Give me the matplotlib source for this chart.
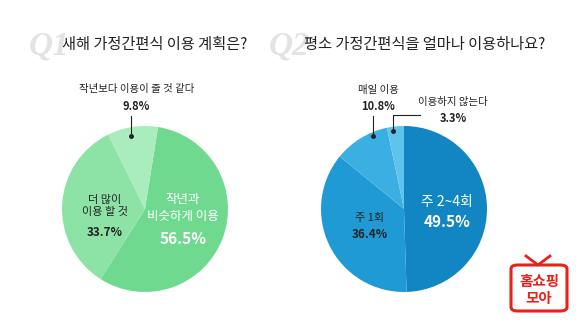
import matplotlib.pyplot as plt
from matplotlib.patches import FancyBboxPatch
from matplotlib.lines import Line2D

plt.rcParams['font.family'] = ['Noto Sans CJK KR', 'DejaVu Sans']

W, H = 580, 322

# Q1: 새해 가정간편식 이용 계획
q1_labels = ['작년과\n비슷하게 이용', '더 많이\n이용 할 것', '작년보다 이용이 줄 것 같다']
q1_values = [56.5, 33.7, 9.8]
q1_colors = ['#6fda8f', '#8de3a6', '#a9ecbd']

# Q2: 평소 가정간편식 이용 빈도
q2_labels = ['주 2~4회', '주 1회', '매일 이용', '이용하지 않는다']
q2_values = [49.5, 36.4, 10.8, 3.3]
q2_colors = ['#1286c2', '#1f9ad5', '#3cafe2', '#5ec4ec']


def fx(x):
    return x / W


def fy(y):
    return 1 - y / H


def pie_axes(cx, cy, r):
    ax = fig.add_axes([fx(cx - r), fy(cy + r), 2 * r / W, 2 * r / H])
    ax.axis('off')
    return ax


def label(x, y, s, size=8, color='#222222', weight='normal'):
    fig.text(fx(x), fy(y), s, fontsize=size, color=color, weight=weight,
             ha='center', va='center', linespacing=1.35)


def leader(points):
    xs = [fx(p[0]) for p in points]
    ys = [fy(p[1]) for p in points]
    fig.add_artist(Line2D(xs, ys, color='#222222', lw=0.8))
    fig.add_artist(Line2D([xs[-1]], [ys[-1]], marker='o', ms=2.5,
                          color='#222222'))


fig = plt.figure(figsize=(5.8, 3.22), dpi=100)
fig.patch.set_facecolor('white')

# titles with faded Q numbers behind them
fig.text(fx(29), fy(46), 'Q1', fontsize=24, family='Liberation Serif',
         style='italic', weight='bold', color='#e3e3e3', va='center')
fig.text(fx(62), fy(45), '새해 가정간편식 이용 계획은?', fontsize=11,
         color='#222222', va='center')
fig.text(fx(269), fy(46), 'Q2', fontsize=24, family='Liberation Serif',
         style='italic', weight='bold', color='#e3e3e3', va='center')
fig.text(fx(304), fy(45), '평소 가정간편식을 얼마나 이용하나요?', fontsize=11,
         color='#222222', va='center')

# left pie
ax1 = pie_axes(145, 209, 83)
ax1.pie(q1_values, colors=q1_colors, startangle=81, counterclock=False,
        radius=1, wedgeprops=dict(linewidth=0))
ax1.set_xlim(-1, 1)
ax1.set_ylim(-1, 1)

label(183, 208, q1_labels[0], size=9, color='white')
label(183, 239, f'{q1_values[0]}%', size=11, color='white', weight='bold')
label(105, 206, q1_labels[1], size=8)
label(105, 232, f'{q1_values[1]}%', size=8.5, weight='bold')
label(137, 89, q1_labels[2], size=7.5)
label(136, 107, f'{q1_values[2]}%', size=8, weight='bold')
leader([(131, 116), (131, 136)])

# right pie
ax2 = pie_axes(404, 209, 83)
ax2.pie(q2_values, colors=q2_colors, startangle=90, counterclock=False,
        radius=1, wedgeprops=dict(linewidth=0))
ax2.set_xlim(-1, 1)
ax2.set_ylim(-1, 1)

label(447, 202, q2_labels[0], size=10, color='white')
label(447, 222, f'{q2_values[0]}%', size=11, color='white', weight='bold')
label(370, 218, q2_labels[1], size=8)
label(370, 235, f'{q2_values[1]}%', size=8.5, weight='bold')
label(378, 90, q2_labels[2], size=7.5)
label(378, 107, f'{q2_values[2]}%', size=8, weight='bold')
leader([(373, 116), (373, 136)])
label(453, 102, q2_labels[3], size=7.5)
label(453, 119, f'{q2_values[3]}%', size=8, weight='bold')
leader([(420, 115), (393, 115), (393, 131)])

# 홈쇼핑모아 logo
fig.add_artist(Line2D([fx(526), fx(538), fx(550)], [fy(256), fy(265), fy(256)],
                      color='#e8211c', lw=2))
fig.add_artist(FancyBboxPatch((fx(511), fy(311)), fx(567) - fx(511),
                              fy(265) - fy(311),
                              boxstyle='round,pad=0,rounding_size=0.012',
                              transform=fig.transFigure, facecolor='white',
                              edgecolor='#e8211c', lw=2.2))
fig.text(fx(539), fy(281), '홈쇼핑', fontsize=10.5, weight='bold',
         color='#e8211c', ha='center', va='center')
fig.text(fx(539), fy(298), '모아', fontsize=10.5, weight='bold',
         color='#e8211c', ha='center', va='center')

fig.savefig('out.png', dpi=100, facecolor='white')
